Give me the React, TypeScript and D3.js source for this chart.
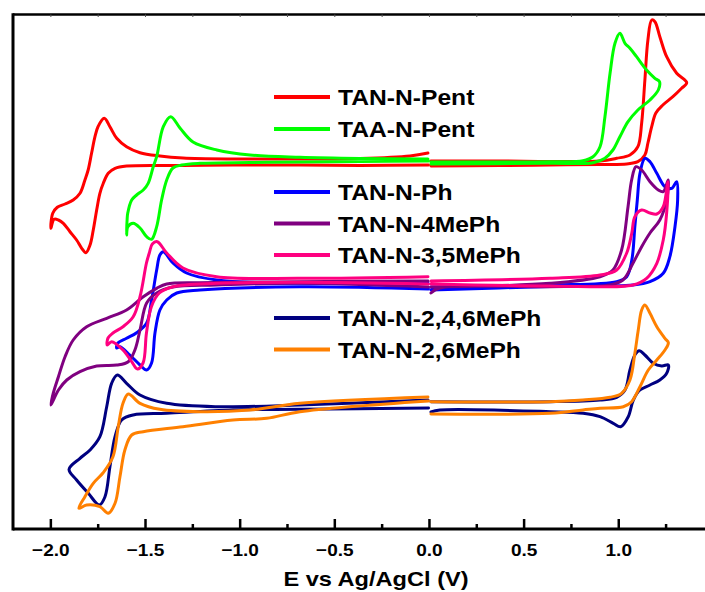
import React from "react";
import * as d3 from "d3";

type Pt = [number, number];

// ---------- DATA (E in V vs Ag/AgCl, I in arbitrary units, stacked/offset) ----------
const seriesNames = [
  "TAN-N-Pent",
  "TAA-N-Pent",
  "TAN-N-Ph",
  "TAN-N-4MePh",
  "TAN-N-3,5MePh",
  "TAN-N-2,4,6MePh",
  "TAN-N-2,6MePh",
];
const seriesColors = ["#ff0000", "#00ff00", "#0000ff", "#800080", "#ff0080", "#000080", "#ff8000"];

const majorTicks = [-2.0, -1.5, -1.0, -0.5, 0.0, 0.5, 1.0];
const minorTicks = [-1.75, -1.25, -0.75, -0.25, 0.25, 0.75, 1.25];
const topTicks = [-2.0, -1.75, -1.5, -1.25, -1.0, -0.75, -0.5, -0.25, 0, 0.25, 0.5, 0.75, 1.0, 1.25];

// TAN-N-Pent
const tanPentNeg: Pt[] = [
  [-0.005, 364], [-0.367, 363.5], [-0.684, 364], [-1.038, 364], [-1.302, 363.5], [-1.6, 363],
  [-1.661, 360.7], [-1.697, 355.7], [-1.723, 345.7], [-1.741, 335.7], [-1.758, 319], [-1.776, 299],
  [-1.793, 284], [-1.815, 276.3], [-1.837, 280.7], [-1.864, 289], [-1.899, 297.3], [-1.934, 305.7],
  [-1.96, 309], [-1.983, 309.7], [-2.0, 300.7],
  [-1.99, 315.7], [-1.966, 321.7], [-1.925, 325], [-1.882, 329], [-1.846, 335.7], [-1.82, 349],
  [-1.803, 359], [-1.785, 375.7], [-1.767, 392.3], [-1.751, 402.3], [-1.718, 410.7], [-1.688, 402.3],
  [-1.652, 390.7], [-1.6, 382.3], [-1.529, 376.3], [-1.424, 373], [-1.302, 371], [-1.038, 370],
  [-0.684, 370], [-0.367, 370.5], [-0.103, 373], [-0.008, 376],
];
const tanPentPos: Pt[] = [
  [0.008, 368], [0.372, 368], [0.637, 367.5], [0.901, 368], [0.989, 370.7], [1.059, 374],
  [1.101, 382.3], [1.121, 406], [1.138, 449], [1.154, 489], [1.174, 509], [1.191, 507.3],
  [1.217, 492.3], [1.253, 472.3], [1.306, 455.7], [1.359, 446.3],
  [1.332, 440.7], [1.286, 432.3], [1.233, 424], [1.196, 416], [1.174, 402.3], [1.154, 386],
  [1.138, 374], [1.101, 367.3], [1.042, 365], [0.901, 364.5], [0.637, 364], [0.372, 363.5], [0.008, 363],
];

// TAA-N-Pent
const taaPentNeg: Pt[] = [
  [-0.005, 368], [-0.367, 367.5], [-0.684, 367], [-0.948, 366.5], [-1.212, 365.7], [-1.309, 364],
  [-1.355, 361], [-1.388, 349], [-1.415, 329], [-1.441, 302.3], [-1.468, 289.7], [-1.494, 292.3],
  [-1.529, 301], [-1.565, 305.7], [-1.593, 302.3], [-1.6, 294],
  [-1.597, 310], [-1.594, 315.7], [-1.573, 329], [-1.547, 334], [-1.512, 339], [-1.486, 345.7],
  [-1.459, 362.3], [-1.441, 372.3], [-1.406, 402.3], [-1.367, 412.3], [-1.318, 401], [-1.249, 387],
  [-1.123, 379], [-0.948, 374], [-0.684, 371.7], [-0.367, 370.5], [-0.008, 370],
];
const taaPentPos: Pt[] = [
  [0.008, 367], [0.637, 367.3], [0.811, 368.3], [0.864, 372.3], [0.901, 382.3], [0.927, 412.3],
  [0.954, 455.7], [0.98, 485.7], [1.006, 495.7], [1.033, 485.7], [1.059, 480.7], [1.094, 472.3],
  [1.147, 459], [1.191, 450.7], [1.215, 447.3],
  [1.209, 439], [1.165, 429], [1.101, 419], [1.049, 407.3], [1.006, 392.3], [0.969, 379],
  [0.927, 370.7], [0.864, 366.3], [0.637, 365.7], [0.008, 365],
];

// TAN-N-Ph
const tanPhNeg: Pt[] = [
  [-0.005, 240], [-0.684, 242.3], [-1.212, 239], [-1.335, 236], [-1.388, 229], [-1.424, 219],
  [-1.45, 196], [-1.468, 166], [-1.494, 159], [-1.529, 164], [-1.583, 174], [-1.635, 182.3], [-1.652, 181],
  [-1.646, 186], [-1.6, 190.7], [-1.547, 196.3], [-1.494, 206], [-1.468, 229], [-1.441, 259],
  [-1.424, 274], [-1.406, 277.3], [-1.355, 266], [-1.283, 256], [-1.124, 249], [-0.684, 245.7], [-0.008, 247],
];
const tanPhPos: Pt[] = [
  [0.008, 242], [0.637, 244], [0.989, 247.3], [1.042, 252.3], [1.069, 269], [1.085, 302.3],
  [1.098, 329], [1.112, 355.7], [1.138, 370.7], [1.165, 367.3], [1.201, 355.7], [1.244, 342.3],
  [1.28, 340.7], [1.306, 347.3],
  [1.311, 329], [1.297, 302.3], [1.27, 272.3], [1.235, 255.7], [1.165, 247.3], [1.075, 244],
  [0.637, 242.5], [0.008, 239],
];

// TAN-N-4MePh
const tan4MeNeg: Pt[] = [
  [-0.005, 242], [-0.684, 245.7], [-1.124, 244], [-1.355, 242], [-1.441, 236], [-1.494, 226],
  [-1.529, 199], [-1.556, 179], [-1.591, 167.3], [-1.652, 164], [-1.758, 163], [-1.846, 157.3],
  [-1.916, 149], [-1.96, 139], [-2.0, 124],
  [-1.987, 136], [-1.96, 152.3], [-1.925, 172.3], [-1.882, 189], [-1.811, 202.3], [-1.705, 210.7],
  [-1.6, 219], [-1.512, 232.3], [-1.441, 240.7], [-1.388, 245], [-1.212, 246.3], [-0.684, 247.3], [-0.008, 248],
];
const tan4MePos: Pt[] = [
  [0.008, 242], [0.637, 245.7], [0.901, 252.3], [0.969, 259], [1.015, 279], [1.049, 322.3],
  [1.068, 349], [1.091, 362.3], [1.121, 359], [1.165, 347.3], [1.209, 339], [1.235, 337.3], [1.261, 349],
  [1.253, 329], [1.217, 309], [1.165, 296], [1.121, 282.3], [1.075, 265.7], [1.022, 249],
  [0.954, 244], [0.637, 242.3], [0.055, 241], [0.008, 236],
];

// TAN-N-3,5MePh
const tan35MeNeg: Pt[] = [
  [-0.005, 245], [-0.684, 246.7], [-1.124, 245.7], [-1.355, 242.3], [-1.427, 236], [-1.469, 222.3],
  [-1.495, 196], [-1.513, 166], [-1.543, 160], [-1.573, 167.3], [-1.619, 179], [-1.679, 187.3], [-1.702, 184],
  [-1.698, 191], [-1.672, 196], [-1.619, 202.3], [-1.565, 212.3], [-1.529, 232.3], [-1.495, 266],
  [-1.48, 276], [-1.464, 285], [-1.438, 287.3], [-1.388, 276], [-1.302, 261], [-1.124, 252.3],
  [-0.684, 250.7], [-0.008, 252.3],
];
const tan35MePos: Pt[] = [
  [0.008, 248], [0.637, 250.7], [0.901, 254], [0.989, 259], [1.042, 276], [1.069, 296],
  [1.085, 312.3], [1.121, 319], [1.165, 316], [1.201, 315], [1.235, 322.3], [1.26, 347.3],
  [1.253, 316], [1.235, 289], [1.201, 265.7], [1.147, 250.7], [1.075, 244], [0.637, 243], [0.008, 245],
];

// TAN-N-2,4,6MePh
const tan246MeNeg: Pt[] = [
  [-0.005, 121], [-0.684, 119.7], [-1.038, 119], [-1.388, 115.7], [-1.565, 114], [-1.626, 109],
  [-1.661, 92.3], [-1.688, 62.3], [-1.714, 32.3], [-1.744, 24], [-1.802, 35.7], [-1.864, 49], [-1.904, 59.7],
  [-1.846, 70.7], [-1.793, 79], [-1.741, 92.3], [-1.705, 122.3], [-1.679, 145.7], [-1.649, 154],
  [-1.6, 145.7], [-1.529, 134], [-1.388, 125.7], [-1.124, 122.3], [-0.684, 124], [-0.008, 129],
];
const tan246MePos: Pt[] = [
  [0.008, 127.3], [0.637, 127.3], [0.901, 129], [0.989, 131.7], [1.033, 139], [1.059, 159],
  [1.085, 174], [1.108, 178.3], [1.138, 174], [1.182, 165.7], [1.227, 163], [1.262, 164],
  [1.253, 155.7], [1.217, 149], [1.165, 144], [1.112, 139], [1.077, 129], [1.05, 112.3],
  [1.01, 102.3], [0.971, 105.7], [0.901, 112.3], [0.812, 115.7], [0.637, 117.3], [0.055, 119], [0.008, 117],
];

// TAN-N-2,6MePh
const tan26MeNeg: Pt[] = [
  [-0.005, 128], [-0.684, 117.3], [-0.86, 110.7], [-1.038, 109], [-1.302, 102.3], [-1.512, 97.3],
  [-1.573, 94], [-1.609, 79], [-1.635, 52.3], [-1.661, 25.7], [-1.697, 15.7], [-1.741, 22.3],
  [-1.811, 24], [-1.852, 20.7],
  [-1.82, 32.3], [-1.776, 45.7], [-1.725, 56], [-1.672, 72.3], [-1.644, 102.3], [-1.619, 125.7],
  [-1.591, 135], [-1.529, 125.7], [-1.424, 119.7], [-1.212, 117.3], [-0.948, 119], [-0.684, 125.7], [-0.008, 132],
];
const tan26MePos: Pt[] = [
  [0.008, 127.3], [0.637, 127.3], [0.811, 129], [0.954, 131.7], [1.015, 135.7], [1.059, 149],
  [1.085, 175.7], [1.103, 199], [1.121, 219], [1.138, 224], [1.165, 215.7], [1.201, 202.3],
  [1.244, 190.7], [1.262, 186.3],
  [1.244, 179], [1.201, 169], [1.156, 159], [1.112, 142.3], [1.068, 127.3], [1.024, 122.3],
  [0.901, 120.7], [0.811, 119], [0.637, 115.7], [0.008, 115],
];

const negativeScans = [tanPentNeg, taaPentNeg, tanPhNeg, tan4MeNeg, tan35MeNeg, tan246MeNeg, tan26MeNeg];
const positiveScans = [tanPentPos, taaPentPos, tanPhPos, tan4MePos, tan35MePos, tan246MePos, tan26MePos];

const xTitle = "E vs Ag/AgCl (V)";

// ---------- LAYOUT ----------
const W = 705;
const H = 592;
const PX_PER_V = 189.3;
const plotLeft = 13;
const plotTop = 14.5;
const plotBottom = 529;
const legendRowY = [97, 129, 192, 223.5, 255, 318, 349.5];
const FONT = "'Liberation Sans', Arial, Helvetica, sans-serif";

export default function App() {
  const x = d3.scaleLinear().domain([-2.2, 1.45]).range([plotLeft, plotLeft + 3.65 * PX_PER_V]);
  const y = d3.scaleLinear().domain([0, 514]).range([plotBottom, plotBottom - 514]);
  const line = d3
    .line<Pt>()
    .x((d) => x(d[0]))
    .y((d) => y(d[1]))
    .curve(d3.curveCatmullRom.alpha(0.5));

  const fmt = d3.format(".1f");

  return (
    <svg
      width={W}
      height={H}
      viewBox={`0 0 ${W} ${H}`}
      style={{ position: "absolute", left: 0, top: 0, background: "#fff" }}
    >
      <rect x={0} y={0} width={W} height={H} fill="#fff" />
      {/* curves */}
      <g fill="none" strokeWidth={3} strokeLinejoin="round" strokeLinecap="round">
        {seriesNames.map((name, i) => (
          <g key={name} stroke={seriesColors[i]}>
            <path d={line(negativeScans[i]) || ""} />
            <path d={line(positiveScans[i]) || ""} />
          </g>
        ))}
      </g>

      {/* legend */}
      <g fontFamily={FONT} fontWeight="bold" fontSize={22}>
        {seriesNames.map((name, i) => (
          <g key={name}>
            <line x1={274} x2={330} y1={legendRowY[i]} y2={legendRowY[i]} stroke={seriesColors[i]} strokeWidth={4} />
            <text transform={`translate(338,${legendRowY[i] + 8}) scale(1.12,1)`} fill="#000">
              {name}
            </text>
          </g>
        ))}
      </g>

      {/* axes */}
      <g stroke="#000" fill="none">
        <line x1={plotLeft} x2={W} y1={plotTop} y2={plotTop} strokeWidth={2.5} />
        <line x1={plotLeft} x2={W} y1={plotBottom} y2={plotBottom} strokeWidth={3} />
        <line x1={plotLeft} x2={plotLeft} y1={plotTop - 1.2} y2={plotBottom + 1.5} strokeWidth={3} />
        {majorTicks.map((t) => (
          <line key={"M" + t} x1={x(t)} x2={x(t)} y1={plotBottom} y2={plotBottom - 10} strokeWidth={2.5} />
        ))}
        {minorTicks.map((t) => (
          <line key={"m" + t} x1={x(t)} x2={x(t)} y1={plotBottom} y2={plotBottom - 5} strokeWidth={2.5} />
        ))}
        {topTicks.map((t) => (
          <line key={"t" + t} x1={x(t)} x2={x(t)} y1={plotTop} y2={plotTop + 2.5} strokeWidth={1} stroke="#555" />
        ))}
      </g>
      <g fontFamily={FONT} fontWeight="bold" fontSize={17} fill="#000">
        {majorTicks.map((t) => (
          <text key={"l" + t} transform={`translate(${x(t)},556) scale(1.12,1)`} textAnchor="middle">
            {fmt(t)}
          </text>
        ))}
      </g>
      <text
        transform="translate(376,586) scale(1.18,1)"
        textAnchor="middle"
        fontFamily={FONT}
        fontWeight="bold"
        fontSize={20}
        fill="#000"
      >
        {xTitle}
      </text>
    </svg>
  );
}
